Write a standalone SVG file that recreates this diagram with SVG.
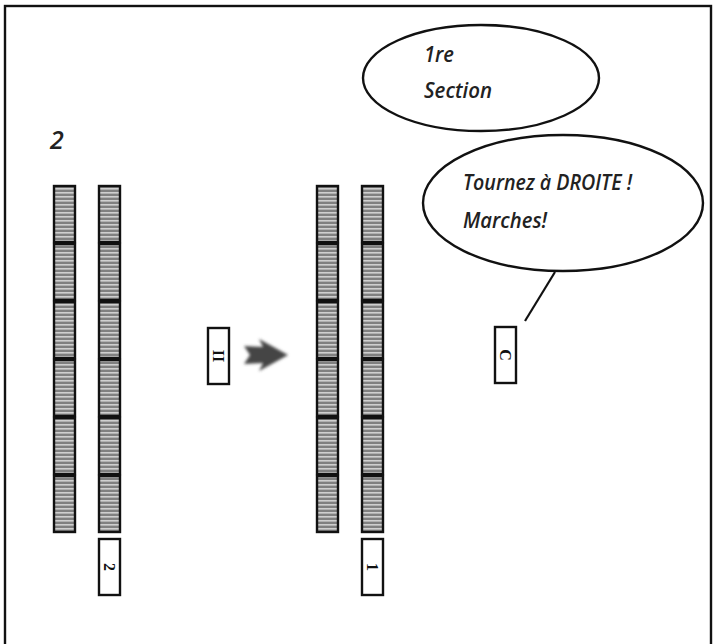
<svg xmlns="http://www.w3.org/2000/svg" width="716" height="644" viewBox="0 0 716 644">
<defs>
<pattern id="stripes" x="0" y="0" width="4" height="4" patternUnits="userSpaceOnUse">
<rect width="4" height="4" fill="#808080"/>
<rect y="2" width="4" height="1.6" fill="#cfcfcf"/>
</pattern>
<filter id="blur" x="-20%" y="-20%" width="140%" height="140%"><feGaussianBlur stdDeviation="1.8"/></filter>
<g id="col" fill="url(#stripes)" stroke="#111" stroke-width="2.4">
<rect x="0" y="0" width="21" height="56"/>
<rect x="0" y="58" width="21" height="56"/>
<rect x="0" y="116" width="21" height="56"/>
<rect x="0" y="174" width="21" height="56"/>
<rect x="0" y="232" width="21" height="56"/>
<rect x="0" y="290" width="21" height="56"/>
</g>
</defs>
<style>
.box{fill:#fff;stroke:#111;stroke-width:2.4}
.ell{fill:#fff;stroke:#111;stroke-width:2.4}
.t{font-family:"Open Sans","Noto Sans",sans-serif;font-style:italic;font-weight:600;fill:#222}
.lbl{font-family:"Liberation Serif",serif;font-weight:bold;font-size:16px;fill:#111;text-anchor:middle;dominant-baseline:central}
</style>
<rect x="5" y="6" width="706" height="650" fill="#fff" stroke="#111" stroke-width="2.4"/>
<g id="label-2"><text class="t" x="50" y="149" font-size="25" font-weight="400">2</text></g>
<g id="col-left-a"><use href="#col" x="54" y="186"/></g>
<g id="col-left-b"><use href="#col" x="99" y="186"/></g>
<g id="col-right-a"><use href="#col" x="317" y="186"/></g>
<g id="col-right-b"><use href="#col" x="362" y="186"/></g>
<g id="box-2"><rect class="box" x="99" y="539" width="21" height="56"/><text class="lbl" transform="translate(109.5 567) rotate(90)">2</text></g>
<g id="box-1"><rect class="box" x="362" y="539" width="21" height="56"/><text class="lbl" transform="translate(372.5 567) rotate(90)">1</text></g>
<g id="box-II"><rect class="box" x="208" y="328" width="21" height="56"/><text class="lbl" transform="translate(218.5 356) rotate(90)">II</text></g>
<g id="box-C"><rect class="box" x="495" y="327" width="21" height="56"/><text class="lbl" transform="translate(505.5 355) rotate(90)">C</text></g>
<g id="bubble-section"><ellipse class="ell" cx="481" cy="78" rx="118" ry="53"/>
<text class="t" x="424" y="62" font-size="21" textLength="30" lengthAdjust="spacingAndGlyphs">1re</text>
<text class="t" x="424" y="98" font-size="21" textLength="68" lengthAdjust="spacingAndGlyphs">Section</text></g>
<g id="bubble-order"><ellipse class="ell" cx="563" cy="203" rx="140" ry="68"/>
<text class="t" x="463" y="190" font-size="21" textLength="169" lengthAdjust="spacingAndGlyphs">Tournez à DROITE !</text>
<text class="t" x="463" y="228" font-size="21" textLength="84" lengthAdjust="spacingAndGlyphs">Marches!</text></g>
<g id="connectors">
<polygon points="244,346 263,347 259,339 288,355 259,371 263,363 244,364 250,355" fill="#444" filter="url(#blur)"/>
<line x1="555" y1="272" x2="525" y2="321" stroke="#111" stroke-width="2.2"/>
</g>
</svg>
